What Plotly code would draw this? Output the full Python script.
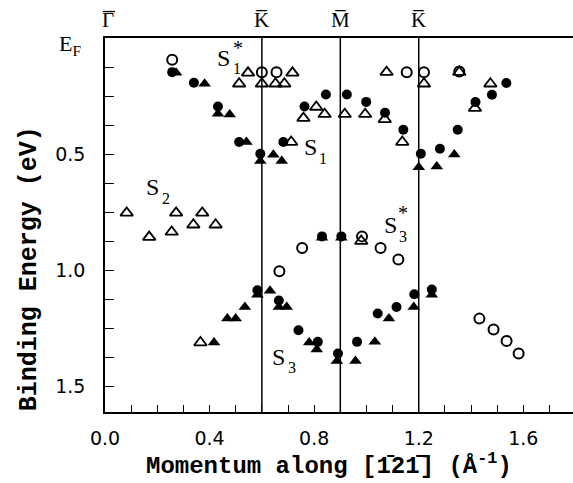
import plotly.graph_objects as go

# ---- data (momentum in 1/Å, binding energy in eV) ----
fc_x = [0.257, 0.34, 0.432, 0.513, 0.594, 0.682, 0.763, 0.845, 0.925, 0.999, 1.071, 1.141, 1.208, 1.281, 1.349, 1.417, 1.48, 1.535,
        0.583, 0.665, 0.74, 0.814, 0.891, 0.964, 1.043, 1.115, 1.183, 1.25, 0.83, 0.904]
fc_y = [0.147, 0.193, 0.295, 0.448, 0.498, 0.448, 0.295, 0.243, 0.243, 0.275, 0.322, 0.395, 0.498, 0.477, 0.395, 0.276, 0.244, 0.194,
        1.086, 1.13, 1.258, 1.308, 1.358, 1.308, 1.186, 1.158, 1.103, 1.083, 0.854, 0.854]

ft_x = [0.272, 0.381, 0.432, 0.477, 0.541, 0.594, 0.644, 0.676, 1.2, 1.269, 1.336,
        0.417, 0.468, 0.5, 0.535, 0.583, 0.631, 0.665, 0.695, 0.781, 0.81, 0.887, 0.958, 1.032, 1.086, 1.181, 1.25, 0.83, 0.904]
ft_y = [0.15, 0.197, 0.326, 0.329, 0.448, 0.53, 0.503, 0.53, 0.556, 0.553, 0.501,
        1.311, 1.208, 1.208, 1.158, 1.105, 1.088, 1.158, 1.158, 1.311, 1.341, 1.39, 1.39, 1.308, 1.208, 1.158, 1.105, 0.86, 0.86]

oc_x = [0.257, 0.6, 0.656, 1.154, 1.22, 1.355, 0.667, 0.754, 0.983, 1.054, 1.122, 1.432, 1.486, 1.536, 1.582]
oc_y = [0.094, 0.147, 0.147, 0.147, 0.147, 0.144, 1.004, 0.904, 0.854, 0.904, 0.954, 1.208, 1.255, 1.304, 1.358]

ot_x = [0.513, 0.547, 0.6, 0.652, 0.686, 0.717, 0.712, 0.759, 0.808, 0.84, 0.917, 0.995, 1.07, 1.077, 1.22, 1.355, 1.137, 1.415, 1.474, 0.98,
        0.083, 0.169, 0.255, 0.272, 0.338, 0.372, 0.423, 0.365]
ot_y = [0.197, 0.15, 0.197, 0.197, 0.197, 0.15, 0.448, 0.345, 0.297, 0.328, 0.328, 0.328, 0.35, 0.147, 0.197, 0.147, 0.448, 0.302, 0.197, 0.874,
        0.753, 0.857, 0.835, 0.753, 0.804, 0.753, 0.804, 1.311]

sym_points = [0.0, 0.6, 0.9, 1.2]
sym_labels = ["\u0393", "K\u0305", "M\u0305", "K\u0305"]
line_points = [0.6, 0.9, 1.2]

x_tickvals = [0.0, 0.4, 0.8, 1.2, 1.6]
x_ticktext = ["0.0", "0.4", "0.8", "1.2", "1.6"]
y_tickvals = [0.5, 1.0, 1.5]
y_ticktext = ["0.5", "1.0", "1.5"]

SERIF = "Liberation Serif"
MONO = "Liberation Mono"
SANS = "DejaVu Sans"

fig = go.Figure()
fig.add_trace(go.Scatter(x=fc_x, y=fc_y, mode="markers",
                         marker=dict(symbol="circle", size=10, color="black"), showlegend=False))
fig.add_trace(go.Scatter(x=ft_x, y=ft_y, mode="markers",
                         marker=dict(symbol="triangle-up", size=11, color="black"), showlegend=False))
fig.add_trace(go.Scatter(x=oc_x, y=oc_y, mode="markers",
                         marker=dict(symbol="circle-open", size=10, color="black", line=dict(width=2)), showlegend=False))
fig.add_trace(go.Scatter(x=ot_x, y=ot_y, mode="markers",
                         marker=dict(symbol="triangle-up-open", size=11, color="black", line=dict(width=1.8)), showlegend=False))

for xv in line_points:
    fig.add_vline(x=xv, line=dict(color="black", width=1.5))

ann = []
for xv, lab_ in zip(sym_points, sym_labels):
    ann.append(dict(x=xv + (0.01 if xv == 0 else 0), y=1.047, xref="x", yref="paper", text=lab_, showarrow=False,
                    font=dict(family=SERIF, size=21, color="black"), xanchor="center", yanchor="middle"))
# overbar for Gamma-bar label
fig.add_shape(type="line", xref="paper", yref="paper",
              x0=(103 - 105) / 468, x1=(115 - 105) / 468, y0=1 + (37.5 - 11) / 374.5, y1=1 + (37.5 - 11) / 374.5,
              line=dict(color="black", width=1.3))

def lab(x, y, t, size):
    ann.append(dict(x=x, y=y, xref="x", yref="y", text=t, showarrow=False,
                    font=dict(family=SERIF, size=size, color="black"), xanchor="center", yanchor="middle"))

# S1*
lab(0.454, 0.088, "S", 24); lab(0.506, 0.131, "1", 16); lab(0.51, 0.041, "*", 20)
# S1
lab(0.785, 0.471, "S", 24); lab(0.833, 0.518, "1", 16)
# S2
lab(0.181, 0.643, "S", 24); lab(0.235, 0.69, "2", 16)
# S3*
lab(1.092, 0.806, "S", 24); lab(1.14, 0.755, "*", 20); lab(1.14, 0.854, "3", 16)
# S3
lab(0.662, 1.374, "S", 24); lab(0.715, 1.417, "3", 16)

# E_F label
ann.append(dict(x=(70 - 105) / 468, y=1 - (45 - 37.5) / 374.5, xref="paper", yref="paper",
                text="E<sub>F</sub>", showarrow=False,
                font=dict(family=SERIF, size=22, color="black"), xanchor="center", yanchor="middle"))

# axis titles
ann.append(dict(x=(29 - 105) / 468, y=1 - (269 - 37.5) / 374.5, xref="paper", yref="paper",
                text="<b>Binding Energy (eV)</b>", textangle=-90, showarrow=False,
                font=dict(family=MONO, size=25, color="black"), xanchor="center", yanchor="middle"))
ann.append(dict(x=(329 - 105) / 468, y=1 - (465 - 37.5) / 374.5, xref="paper", yref="paper",
                text="<b>Momentum along [1\u030421\u0304] (\u00c5<sup>-1</sup>)</b>", showarrow=False,
                font=dict(family=MONO, size=24, color="black"), xanchor="center", yanchor="middle"))

fig.update_layout(
    width=573, height=483,
    margin=dict(l=105, r=0, t=38, b=71),
    paper_bgcolor="white", plot_bgcolor="white",
    annotations=ann,
    xaxis=dict(range=[0, 1.79], tickvals=x_tickvals, ticktext=x_ticktext, ticks="inside", ticklen=7,
               tickwidth=1.3, tickcolor="black", showline=True, linecolor="black", linewidth=1.5, mirror=True,
               showgrid=False, zeroline=False, tickfont=dict(family=SANS, size=19, color="black"),
               ticklabelstandoff=8,
               minor=dict(tick0=0, dtick=0.1, ticks="inside", ticklen=7, tickwidth=1.3, tickcolor="black", showgrid=False)),
    yaxis=dict(range=[1.61, 0], tickvals=y_tickvals, ticktext=y_ticktext, ticks="inside", ticklen=9,
               tickwidth=1.3, tickcolor="black", showline=True, linecolor="black", linewidth=1.5, mirror=False,
               showgrid=False, zeroline=False, tickfont=dict(family=SANS, size=19, color="black"),
               ticklabelstandoff=14,
               minor=dict(tick0=0, dtick=0.125, ticks="inside", ticklen=9, tickwidth=1.3, tickcolor="black", showgrid=False)),
)

fig.write_html("out.html")
